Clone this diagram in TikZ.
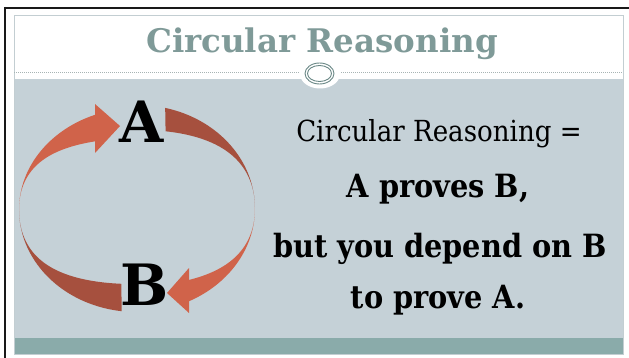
\documentclass[tikz,border=0pt]{standalone}
\usepackage{fontspec}
\setmainfont{DejaVu Serif}[FakeStretch=0.9]
\newfontfamily\widefont{DejaVu Serif}
\definecolor{slidegray}{HTML}{C5D1D7}
\definecolor{barteal}{HTML}{8AABAA}
\definecolor{titleteal}{HTML}{7F9A98}
\definecolor{ringteal}{HTML}{6A8886}
\definecolor{framegray}{HTML}{C3CED2}
\definecolor{dotgray}{HTML}{A7B4B4}
\definecolor{arrowlight}{HTML}{D0634A}
\definecolor{arrowdark}{HTML}{A6503E}

\begin{document}
\begin{tikzpicture}[
  x=1pt, y=-1pt,
  titletext/.style={anchor=base, text=titleteal, font=\widefont\fontsize{32.5}{32.5}\selectfont\bfseries},
  eqtext/.style={anchor=base, font=\fontsize{29}{29}\selectfont},
  boldtext/.style={anchor=base, font=\fontsize{32}{32}\selectfont\bfseries},
  letter/.style={anchor=base, font=\widefont\fontsize{57}{57}\selectfont\bfseries},
  ring/.style={draw=ringteal, line width=0.9pt},
]
\useasboundingbox (0,0) rectangle (629,358);

% outer black frame
\draw[black!90, line width=2.5pt] (4,8) -- (629,8);
\draw[black!90, line width=2.5pt] (5,7) -- (5,358);

% slide
\fill[white] (14,15) rectangle (623,354);
\fill[slidegray] (14,79) rectangle (623,338);
\fill[barteal] (14,338) rectangle (623,354);
\draw[framegray, line width=0.8pt] (14,15) rectangle (623,354);

\draw[dotgray, line width=1pt, dash pattern=on 1pt off 1pt] (14,73) -- (300,73);
\draw[dotgray, line width=1pt, dash pattern=on 1pt off 1pt] (339,73) -- (623,73);
\fill[white] (320,74) ellipse [x radius=20, y radius=14.5];
\draw[ring] (319.5,73.5) ellipse [x radius=14.5, y radius=10.5];
\draw[ring] (319.5,73.5) ellipse [x radius=12, y radius=8];

\node[titletext] (title) at (322,53) {Circular Reasoning};

% circular arrows
\begin{scope}[shift={(137,209)}, rotate=1]
  \fill[arrowlight] plot[domain=108:180, samples=40, variable=\t] ({118*cos(\t)}, {-101*sin(\t)})
    -- plot[domain=180:108, samples=40, variable=\t] ({118*cos(\t)}, {-(101-30*abs(sin(\t)))*sin(\t)}) -- cycle;
  \fill[arrowdark] plot[domain=180:261.7, samples=40, variable=\t] ({118*cos(\t)}, {-103*sin(\t)})
    -- plot[domain=261.7:180, samples=40, variable=\t] ({118*cos(\t)}, {-(103-28*abs(sin(\t)))*sin(\t)}) -- cycle;
  \fill[arrowdark] plot[domain=75.3:0, samples=40, variable=\t] ({118*cos(\t)}, {-104*sin(\t)})
    -- plot[domain=0:75.3, samples=40, variable=\t] ({118*cos(\t)}, {-(104-25*abs(sin(\t)))*sin(\t)}) -- cycle;
  \fill[arrowlight] plot[domain=0:-66, samples=40, variable=\t] ({118*cos(\t)}, {-103*sin(\t)})
    -- plot[domain=-66:0, samples=40, variable=\t] ({118*cos(\t)}, {-(103-26*abs(sin(\t)))*sin(\t)}) -- cycle;
\end{scope}
\fill[arrowlight] (95,104) -- (120,126) -- (95,153) -- cycle;
\fill[arrowlight] (189,268) -- (167,293) -- (189,313) -- cycle;

\node[letter] (A) at (142,143) {A};
\node[letter] (B) at (145,305) {B};

\node[eqtext] (eq) at (439,142) {Circular Reasoning =};
\node[boldtext] (line1) at (438,198) {A proves B,};
\node[boldtext] (line2) at (440,257) {but you depend on B};
\node[boldtext] (line3) at (438,308) {to prove A.};
\end{tikzpicture}
\end{document}
